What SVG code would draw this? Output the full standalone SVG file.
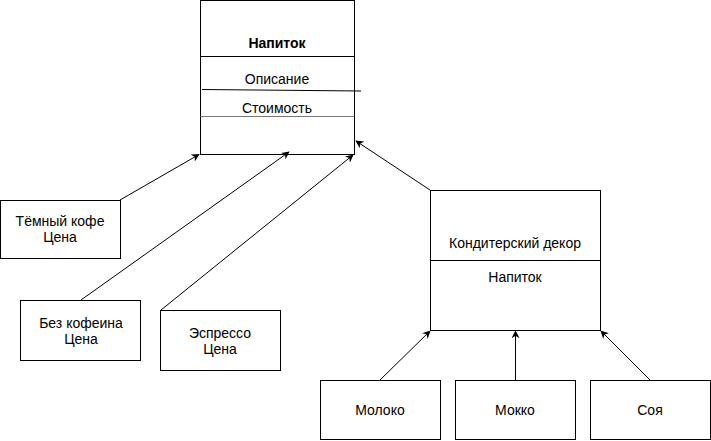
<svg xmlns="http://www.w3.org/2000/svg" width="711" height="441" viewBox="0 0 711 441">
<style>
.box{fill:#fff;stroke:#000;stroke-width:1}
.t{font-family:"Liberation Sans",Arial,sans-serif;font-size:14px;fill:#000;text-anchor:middle}
.c{fill:none;stroke:#000;stroke-width:1}
</style>
<defs>
<marker id="a" viewBox="0 0 10 10" refX="9" refY="5" markerWidth="8" markerHeight="8" markerUnits="userSpaceOnUse" orient="auto">
<path d="M0,0 L10,5 L0,10 L3,5 Z" fill="#000"/>
</marker>
</defs>
<rect width="711" height="441" fill="#fff"/>
<g id="napitok">
<rect class="box" x="200.5" y="0.5" width="154" height="154"/>
<line x1="200.5" y1="56.5" x2="354.5" y2="56.5" stroke="#000"/>
<line x1="202" y1="89.5" x2="361" y2="91" stroke="#000"/>
<line x1="200.5" y1="116.5" x2="354.5" y2="116.5" stroke="#777" stroke-width="1"/>
<text class="t" x="277" y="48" font-weight="bold">Напиток</text>
<text class="t" x="277" y="83.5" font-size="14.5">Описание</text>
<text class="t" x="277" y="113" font-size="11">Стоимость</text>
</g>
<g id="dark">
<rect class="box" x="0.5" y="200.5" width="120" height="58"/>
<text class="t" x="60" y="226">Тёмный кофе</text>
<text class="t" x="60" y="242">Цена</text>
</g>
<g id="decaf">
<rect class="box" x="20.5" y="300.5" width="120" height="60"/>
<text class="t" x="81" y="328">Без кофеина</text>
<text class="t" x="81" y="344">Цена</text>
</g>
<g id="espresso">
<rect class="box" x="160.5" y="310.5" width="120" height="60"/>
<text class="t" x="220" y="338">Эспрессо</text>
<text class="t" x="220" y="354">Цена</text>
</g>
<g id="decor">
<rect class="box" x="430.5" y="190.5" width="170" height="140"/>
<line x1="430.5" y1="260.5" x2="600.5" y2="260.5" stroke="#000"/>
<text class="t" x="515" y="248">Кондитерский декор</text>
<text class="t" x="515" y="282">Напиток</text>
</g>
<g id="milk">
<rect class="box" x="320.5" y="380.5" width="120" height="59"/>
<text class="t" x="380" y="415">Молоко</text>
</g>
<g id="mocha">
<rect class="box" x="455.5" y="380.5" width="120" height="59"/>
<text class="t" x="515" y="415">Мокко</text>
</g>
<g id="soy">
<rect class="box" x="590.5" y="380.5" width="120" height="59"/>
<text class="t" x="650" y="415">Соя</text>
</g>
<g id="connectors">
<line class="c" x1="120" y1="200" x2="199" y2="154.5" marker-end="url(#a)"/>
<line class="c" x1="81" y1="300" x2="289" y2="152" marker-end="url(#a)"/>
<line class="c" x1="161" y1="310" x2="353" y2="155" marker-end="url(#a)"/>
<line class="c" x1="430" y1="190" x2="356" y2="141" marker-end="url(#a)"/>
<line class="c" x1="380" y1="380" x2="430" y2="331" marker-end="url(#a)"/>
<line class="c" x1="515.5" y1="380" x2="515.5" y2="331" marker-end="url(#a)"/>
<line class="c" x1="650" y1="380" x2="601" y2="331" marker-end="url(#a)"/>
</g>
</svg>
